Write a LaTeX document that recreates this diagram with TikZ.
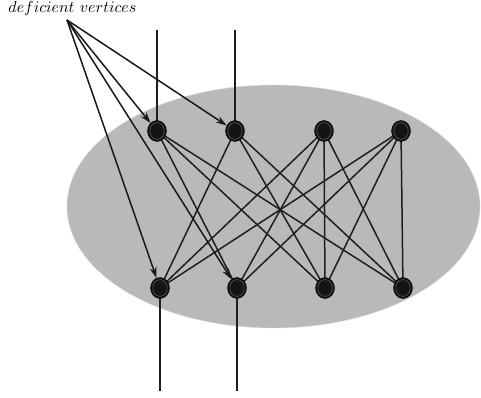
\documentclass[tikz,border=0pt]{standalone}
\usetikzlibrary{shapes.geometric,arrows.meta,backgrounds}
\begin{document}
\begin{tikzpicture}[x=1pt,y=-1pt,
  vtx/.style={ellipse,fill=black!92,draw=black,line width=0.4pt,minimum width=19pt,minimum height=21pt,inner sep=0pt,
    path picture={\draw[gray!70!black,line width=0.6pt] (path picture bounding box.center) ellipse (7.2pt and 8.4pt);}},
  edgeline/.style={line width=1.5pt,black!88},
  arr/.style={line width=1.5pt,black!90,-{Stealth[length=11pt,width=7pt]}}]
\useasboundingbox (0,0) rectangle (481,398);
% vertices
\node[vtx] (T1) at (157,131) {};
\node[vtx] (T2) at (235,131) {};
\node[vtx] (T3) at (324,131) {};
\node[vtx] (T4) at (401,131) {};
\node[vtx] (B1) at (160,288) {};
\node[vtx] (B2) at (237,288) {};
\node[vtx] (B3) at (325,288) {};
\node[vtx] (B4) at (403,288) {};
\coordinate (u1) at (157,30);
\coordinate (u2) at (235,30);
\coordinate (d1) at (160,391);
\coordinate (d2) at (237,391);
\coordinate (src) at (67,20);
\begin{scope}[on background layer]
\fill[gray!55!white,draw=gray!30] (273.5,206.5) ellipse (206.5pt and 121.5pt);
\foreach \a/\b in {T1/B2,T1/B3,T1/B4,T2/B1,T2/B3,T2/B4,T3/B1,T3/B2,T3/B3,T3/B4,T4/B1,T4/B2,T4/B3,T4/B4}{
  \draw[edgeline] (\a.center) -- (\b.center);
}
\draw[edgeline] (u1) -- (T1.center);
\draw[edgeline] (u2) -- (T2.center);
\draw[edgeline] (B1.center) -- (d1);
\draw[edgeline] (B2.center) -- (d2);
\end{scope}
% arrows
\draw[arr] (src) -- (T1);
\draw[arr] (src) -- (T2);
\draw[arr] (src) -- (B1);
\draw[arr] (src) -- (B2);
\node[anchor=base,inner sep=0pt,scale=1.6] (lbl) at (72.5,12.5) {$deficient\ vertices$};
\end{tikzpicture}
\end{document}
